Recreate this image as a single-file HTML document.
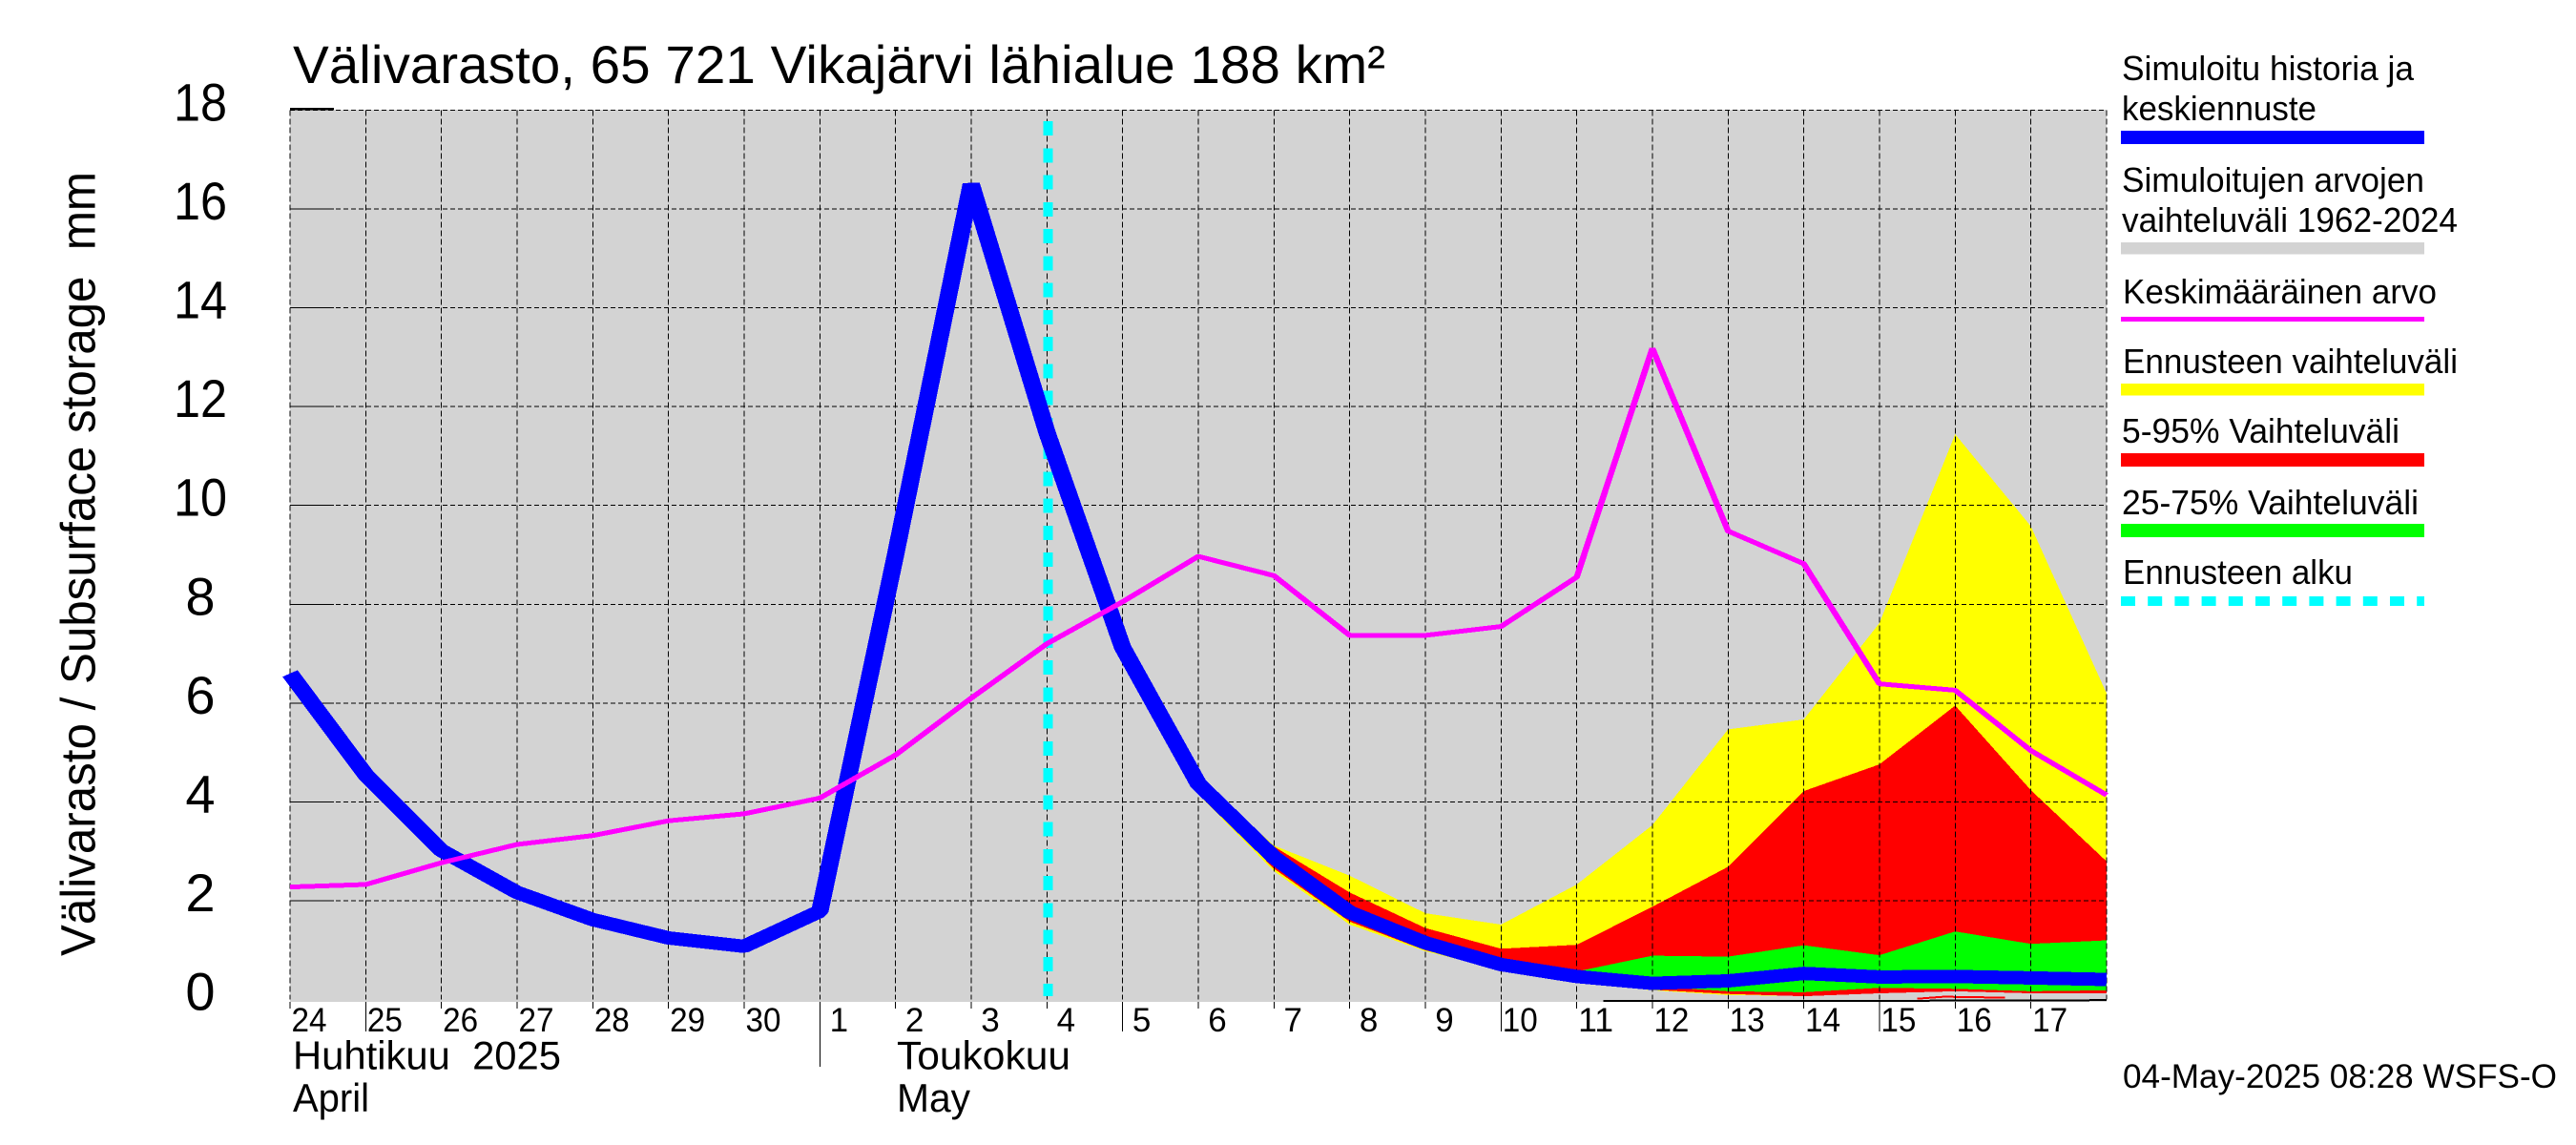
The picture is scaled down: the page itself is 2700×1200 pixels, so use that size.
<!DOCTYPE html>
<html lang="fi">
<head>
<meta charset="utf-8">
<title>Välivarasto, 65 721 Vikajärvi lähialue</title>
<style>
html,body{margin:0;padding:0;background:#fff;width:2700px;height:1200px;overflow:hidden}
svg{display:block}
text{font-family:"Liberation Sans",sans-serif;fill:#000}
</style>
</head>
<body>
<svg id="chart" xmlns="http://www.w3.org/2000/svg" width="2700" height="1200" viewBox="0 0 2700 1200">
  <rect x="0" y="0" width="2700" height="1200" fill="#fff"/>
  <rect x="304" y="115" width="1904" height="935" fill="#d3d3d3" shape-rendering="crispEdges"/>
  <g id="fills" shape-rendering="crispEdges"></g>
  <g id="grid" shape-rendering="crispEdges"></g>
  <g id="ticks" shape-rendering="crispEdges"></g>
  <g id="series" shape-rendering="crispEdges"></g>
  <g id="labels"></g>

  <text x="307" y="87" font-size="56" textLength="1145" lengthAdjust="spacingAndGlyphs">Välivarasto, 65 721 Vikajärvi lähialue 188 km²</text>
  <text transform="translate(99.5,1002) rotate(-90)" font-size="51" textLength="822" lengthAdjust="spacingAndGlyphs" xml:space="preserve">Välivarasto / Subsurface storage  mm</text>

  <text x="307" y="1120.5" font-size="42" textLength="281" lengthAdjust="spacingAndGlyphs" xml:space="preserve">Huhtikuu  2025</text>
  <text x="307" y="1165" font-size="42" textLength="80" lengthAdjust="spacingAndGlyphs">April</text>
  <text x="940" y="1120.5" font-size="42" textLength="182" lengthAdjust="spacingAndGlyphs">Toukokuu</text>
  <text x="940" y="1165" font-size="42" textLength="77" lengthAdjust="spacingAndGlyphs">May</text>

  <g font-size="36">
    <text x="2224" y="84" font-size="36" textLength="306" lengthAdjust="spacingAndGlyphs">Simuloitu historia ja</text>
    <text x="2224" y="126" font-size="36" textLength="204" lengthAdjust="spacingAndGlyphs">keskiennuste</text>
    <rect x="2223" y="137" width="318" height="14" fill="#0000ff"/>
    <text x="2224" y="201" font-size="36" textLength="317" lengthAdjust="spacingAndGlyphs">Simuloitujen arvojen</text>
    <text x="2224" y="243" font-size="36" textLength="352" lengthAdjust="spacingAndGlyphs">vaihteluväli 1962-2024</text>
    <rect x="2223" y="254" width="318" height="12.5" fill="#d3d3d3"/>
    <text x="2225" y="318" font-size="36" textLength="329" lengthAdjust="spacingAndGlyphs">Keskimääräinen arvo</text>
    <rect x="2223" y="332" width="318" height="5" fill="#ff00ff"/>
    <text x="2225" y="391" font-size="36" textLength="351" lengthAdjust="spacingAndGlyphs">Ennusteen vaihteluväli</text>
    <rect x="2223" y="402" width="318" height="12.5" fill="#ffff00"/>
    <text x="2224" y="464" font-size="36" textLength="291" lengthAdjust="spacingAndGlyphs">5-95% Vaihteluväli</text>
    <rect x="2223" y="475" width="318" height="14" fill="#ff0000"/>
    <text x="2224" y="539" font-size="36" textLength="311" lengthAdjust="spacingAndGlyphs">25-75% Vaihteluväli</text>
    <rect x="2223" y="549" width="318" height="14" fill="#00ff00"/>
    <text x="2225" y="612" font-size="36" textLength="241" lengthAdjust="spacingAndGlyphs">Ennusteen alku</text>
    <line x1="2223" y1="630" x2="2541" y2="630" stroke="#00ffff" stroke-width="10" stroke-dasharray="15 13.2"/>
  </g>

  <text x="2225" y="1140" font-size="35" textLength="455" lengthAdjust="spacingAndGlyphs">04-May-2025 08:28 WSFS-O</text>
</svg>
<script>
// ---- chart data (mm), one value per day starting 24 April ----
const dayLabels = ["24","25","26","27","28","29","30","1","2","3","4","5","6","7","8","9","10","11","12","13","14","15","16","17"];
const yTickValues = [0,2,4,6,8,10,12,14,16,18];
const longTickDays = [1,11,16,21];
const monthTickDay = 7;
const forecastStartDay = 10;

const simulated = [6.6,4.55,3.02,2.17,1.62,1.25,1.08,1.79,9.0,16.5,11.48,7.13,4.37,2.88,1.77,1.15,0.71,0.47,0.33,0.38,0.53,0.46,0.47,0.44,0.41];
const meanValue = [2.28,2.33,2.77,3.14,3.32,3.62,3.76,4.08,4.95,6.1,7.2,8.05,8.97,8.58,7.37,7.37,7.55,8.55,13.18,9.48,8.82,6.39,6.26,5.04,4.14];

// forecast bands: first value is 4 May
const forecastMaxTop = [11.5,7.4,4.5,3.12,2.51,1.75,1.52,2.33,3.53,5.47,5.67,7.62,11.44,9.58,6.2];
const forecastMaxBottom = [11.4,6.9,4.15,2.6,1.52,0.98,0.6,0.36,0.19,0.09,0.08,0.13,0.17,0.13,0.13];
const band595Top = [11.45,7.2,4.43,3.1,2.17,1.45,1.03,1.11,1.88,2.69,4.22,4.76,5.95,4.24,2.8];
const band595Bottom = [11.42,6.95,4.2,2.65,1.58,1.0,0.62,0.38,0.2,0.115,0.07,0.13,0.17,0.13,0.13];
const band2575Top = [11.42,7.1,4.35,2.85,1.85,1.18,0.75,0.57,0.89,0.87,1.1,0.9,1.38,1.13,1.2];
const band2575Bottom = [11.42,7.1,4.3,2.8,1.75,1.12,0.7,0.42,0.27,0.17,0.15,0.24,0.22,0.17,0.19];

// lowest ensemble traces hugging the axis
const lowTraceDays = [17.35,18.55,20.6,24];
const lowTraceValues = [-0.025,-0.025,-0.025,-0.01];
const lowPatchDays = [21.5,21.85,22.66];
const lowPatchValues = [0.02,0.06,0.04];

// ---- axis functions ----
const plotLeft = 304, plotDayWidth = 79.33;
const plotZeroY = 1047.7, plotUnitHeight = 51.8;
const penStretch = 1.3;
function xs(d){ return plotLeft + plotDayWidth * d; }
function ys(v){ return plotZeroY - plotUnitHeight * v; }

const NS = 'http://www.w3.org/2000/svg';
function make(tag, parent){
  const el = document.createElementNS(NS, tag);
  parent.appendChild(el);
  return el;
}
function penPoints(values, startDay){
  return values.map(function(v,i){ return (xs(startDay+i)/penStretch).toFixed(2)+','+ys(v).toFixed(1); }).join(' ');
}
function bandPoints(top, bottom, startDay){
  const a = top.map(function(v,i){ return xs(startDay+i).toFixed(1)+','+ys(v).toFixed(1); });
  const b = bottom.map(function(v,i){ return xs(startDay+i).toFixed(1)+','+ys(v).toFixed(1); }).reverse();
  return a.concat(b).join(' ');
}

// ---- bands ----
const fills = document.getElementById('fills');
const bandYellow = make('polygon', fills);


bandYellow.setAttribute('fill', '#ffff00');
bandYellow.setAttribute('points', bandPoints(forecastMaxTop, forecastMaxBottom, forecastStartDay));

const bandRed = make('polygon', fills);


bandRed.setAttribute('fill', '#ff0000');
bandRed.setAttribute('points', bandPoints(band595Top, band595Bottom, forecastStartDay));

const bandGreen = make('polygon', fills);


bandGreen.setAttribute('fill', '#00ff00');
bandGreen.setAttribute('points', bandPoints(band2575Top, band2575Bottom, forecastStartDay));

const lowPatch = make('polyline', fills);


lowPatch.setAttribute('fill', 'none');
lowPatch.setAttribute('stroke', '#ff0000');
lowPatch.setAttribute('stroke-width', '2');
lowPatch.setAttribute('points', lowPatchDays.map(function(d,i){ return xs(d).toFixed(1)+','+ys(lowPatchValues[i]).toFixed(1); }).join(' '));

const lowTrace = make('polyline', fills);


lowTrace.setAttribute('fill', 'none');
lowTrace.setAttribute('stroke', '#000');
lowTrace.setAttribute('stroke-width', '2');
lowTrace.setAttribute('points', lowTraceDays.map(function(d,i){ return xs(d).toFixed(1)+','+ys(lowTraceValues[i]).toFixed(1); }).join(' '));

// ---- grid ----
const grid = document.getElementById('grid');
for (const v of yTickValues) {
  if (v === 0) continue;
  const h = make('line', grid);
  
  
  h.setAttribute('x1', plotLeft);
  h.setAttribute('x2', xs(24));
  h.setAttribute('y1', ys(v));
  h.setAttribute('y2', ys(v));
  h.setAttribute('stroke', '#000');
  h.setAttribute('stroke-width', '1');
  h.setAttribute('stroke-dasharray', '5 3');
}
for (let d = 0; d <= 24; d++) {
  const g = make('line', grid);
  
  
  g.setAttribute('x1', xs(d));
  g.setAttribute('x2', xs(d));
  g.setAttribute('y1', ys(18));
  g.setAttribute('y2', ys(0));
  g.setAttribute('stroke', '#000');
  g.setAttribute('stroke-width', '1');
  g.setAttribute('stroke-dasharray', '6 3');
}

// ---- ticks ----
const ticks = document.getElementById('ticks');
for (const v of yTickValues) {
  if (v === 0) continue;
  const t = make('line', ticks);
  
  
  t.setAttribute('x1', plotLeft);
  t.setAttribute('x2', plotLeft + 46);
  t.setAttribute('y1', v === 18 ? ys(v) - 1 : ys(v));
  t.setAttribute('y2', v === 18 ? ys(v) - 1 : ys(v));
  t.setAttribute('stroke', '#000');
  t.setAttribute('stroke-width', v === 18 ? '2.5' : '1');
}
for (let d = 0; d < 24; d++) {
  let bottom = 1057;
  if (longTickDays.indexOf(d) >= 0) bottom = 1081;
  if (d === monthTickDay) bottom = 1118;
  const t = make('line', ticks);
  
  
  t.setAttribute('x1', xs(d));
  t.setAttribute('x2', xs(d));
  t.setAttribute('y1', 1050);
  t.setAttribute('y2', bottom);
  t.setAttribute('stroke', '#000');
  t.setAttribute('stroke-width', '1');
}

// ---- series ----
const series = document.getElementById('series');
const startLine = make('line', series);


startLine.setAttribute('x1', xs(forecastStartDay) + 1);
startLine.setAttribute('x2', xs(forecastStartDay) + 1);
startLine.setAttribute('y1', 127);
startLine.setAttribute('y2', 1044);
startLine.setAttribute('stroke', '#00ffff');
startLine.setAttribute('stroke-width', '10');
startLine.setAttribute('stroke-dasharray', '15 13.25');

const simLine = make('polyline', series);


simLine.setAttribute('fill', 'none');
simLine.setAttribute('stroke', '#0000ff');
simLine.setAttribute('stroke-width', '14');
simLine.setAttribute('stroke-linejoin', 'bevel');
simLine.setAttribute('transform', 'scale(' + penStretch + ' 1)');
simLine.setAttribute('points', penPoints(simulated, 0));

const meanLine = make('polyline', series);


meanLine.setAttribute('fill', 'none');
meanLine.setAttribute('stroke', '#ff00ff');
meanLine.setAttribute('stroke-width', '5');
meanLine.setAttribute('stroke-linejoin', 'bevel');
meanLine.setAttribute('transform', 'scale(' + penStretch + ' 1)');
meanLine.setAttribute('points', penPoints(meanValue, 0));

// ---- tick labels ----
const labels = document.getElementById('labels');
for (const v of yTickValues) {
  const t = make('text', labels);
  
  
  t.setAttribute('x', 210);
  t.setAttribute('y', ys(v) + 11);
  t.setAttribute('font-size', '56');
  t.setAttribute('text-anchor', 'middle');
  if (String(v).length === 2) {
    t.setAttribute('textLength', '56');
    t.setAttribute('lengthAdjust', 'spacingAndGlyphs');
  }
  t.textContent = String(v);
}
dayLabels.forEach(function(lbl, i){
  const t = make('text', labels);
  
  
  t.setAttribute('x', xs(i) + 20);
  t.setAttribute('y', 1081);
  t.setAttribute('font-size', '35');
  t.setAttribute('text-anchor', 'middle');
  if (lbl.length === 2) {
    t.setAttribute('textLength', '37');
    t.setAttribute('lengthAdjust', 'spacingAndGlyphs');
  }
  t.textContent = lbl;
});
</script>
</body>
</html>
